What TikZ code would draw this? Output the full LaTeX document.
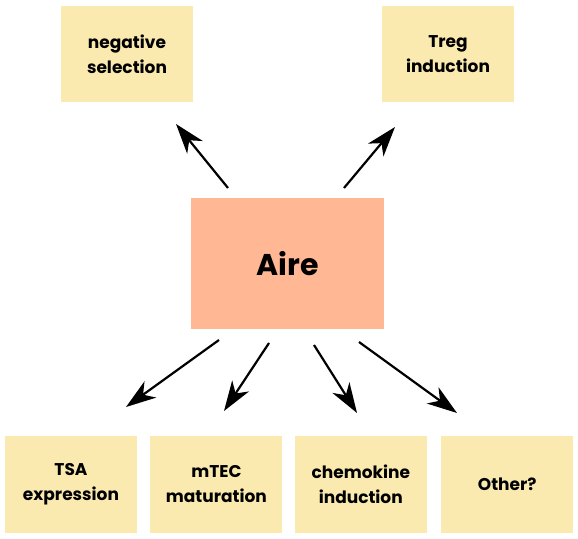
\documentclass[tikz,border=0pt]{standalone}
\usepackage{fontspec}
\setmainfont{Poppins}
\usepackage{tikz}
\usetikzlibrary{arrows.meta,positioning}
\definecolor{cRole}{HTML}{FBEAAF}
\definecolor{cAire}{HTML}{FFB794}
\tikzset{
  x=1pt, y=1pt,
  role/.style ={rectangle, fill=cRole, align=center, inner sep=0pt,
                minimum width=132pt, minimum height=96pt,
                font=\fontsize{17}{25}\selectfont\bfseries},
  hub/.style  ={rectangle, fill=cAire, align=center, inner sep=0pt,
                minimum width=193pt, minimum height=131pt,
                font=\fontsize{30}{34}\selectfont\bfseries},
  fl/.style   ={line width=2.2pt, draw=black,
                -{Stealth[length=30pt 0 0, width=20pt 0 0, inset=9pt 0]}},
}

\begin{document}
\begin{tikzpicture}
  \useasboundingbox (0,0) rectangle (578,538);
  \node[hub]  (aire) at (287.5,274.5) {Aire};
  \node[role] (neg)  at (127,484) {negative\\selection};
  \node[role] (treg) at (448,484) {Treg\\induction};
  \node[role] (tsa)  at (71,53.5) {TSA\\expression};
  \node[role,right=13pt of tsa]   (mtec)  {mTEC\\maturation};
  \node[role,right=12pt of mtec]  (chemo) {chemokine\\induction};
  \node[role,right=14pt of chemo] (other) {Other?};

  % arrow ends
  \coordinate (sNeg)  at (228,350); \coordinate (eNeg)  at (176,414);
  \coordinate (sTreg) at (344,350); \coordinate (eTreg) at (395,411);
  \coordinate (sTsa)  at (219,198); \coordinate (eTsa)  at (126,131);
  \coordinate (sMtec) at (269,195); \coordinate (eMtec) at (224,127);
  \coordinate (sChem) at (314,193); \coordinate (eChem) at (357,125);
  \coordinate (sOth)  at (359,196); \coordinate (eOth)  at (457,125);

  \draw[fl] (sNeg)--(eNeg); \draw[fl] (sTreg)--(eTreg);
  \draw[fl] (sTsa)--(eTsa); \draw[fl] (sMtec)--(eMtec);
  \draw[fl] (sChem)--(eChem); \draw[fl] (sOth)--(eOth);
\end{tikzpicture}
\end{document}
